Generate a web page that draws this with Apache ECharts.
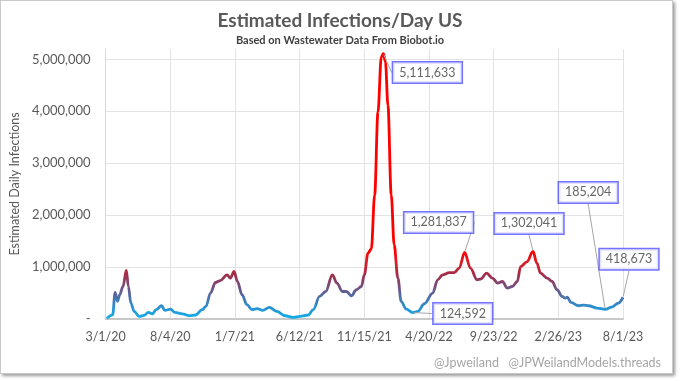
<!DOCTYPE html>
<html>
<head>
<meta charset="utf-8">
<script src="https://cdn.jsdelivr.net/npm/echarts@6/dist/echarts.min.js"></script>
<style>
  html, body { margin: 0; padding: 0; background: #ffffff; }
  #frame { position: absolute; left: 0; top: 0; width: 671px; height: 372px; border: 1px solid #c9c9c9; box-shadow: 2px 2px 3px #9a9a9a; background: #fff; }
  #chart { position: absolute; left: 0; top: 0; width: 680px; height: 381px; }
</style>
</head>
<body>
<div id="frame"></div>
<div id="chart"></div>
<script>
// Days since 3/1/20 and estimated daily infections
const days = [3, 17, 23, 29, 34, 42, 50, 55, 61, 69, 81, 93, 103, 113, 122, 135, 143, 157, 167, 185,
  202, 217, 233, 242, 253, 265, 277, 293, 301, 310, 318, 329, 341, 353, 366, 379, 395, 413, 433, 453,
  469, 489, 501, 516, 531, 547, 558, 571, 581, 593, 605, 617, 624, 633, 641, 649, 657, 665, 670, 675,
  681, 689, 696, 705, 713, 725, 741, 753, 769, 789, 801, 813, 829, 841, 853, 866, 880, 896, 905, 919,
  933, 946, 957, 969, 981, 993, 1001, 1016, 1031, 1040, 1049, 1065, 1077, 1089, 1101, 1109, 1114, 1122, 1141, 1153,
  1165, 1185, 1205, 1221, 1237, 1248];
const infections = [10000, 80000, 510000, 340000, 466000, 626000, 935000, 626000, 307000, 146000, 50000, 70000, 127000, 100000, 180000, 255000, 165000, 190000, 127000, 100000,
  63000, 77000, 180000, 242000, 500000, 703000, 741000, 850000, 787000, 915000, 722000, 467000, 275000, 180000, 198000, 165000, 223000, 146000, 63000, 30000,
  50000, 77000, 180000, 434000, 530000, 850000, 690000, 530000, 530000, 448000, 563000, 626000, 850000, 1270000, 1350000, 2390000, 3990000, 5050000, 5111633, 4950000,
  4120000, 2390000, 1430000, 787000, 338000, 190000, 124592, 146000, 294000, 500000, 755000, 850000, 895000, 895000, 980000, 1281837, 980000, 755000, 770000, 883000,
  787000, 690000, 722000, 595000, 626000, 722000, 1010000, 1100000, 1302041, 1080000, 883000, 787000, 722000, 563000, 434000, 403000, 423000, 319000, 255000, 269000,
  255000, 211000, 185204, 230000, 307000, 418673];
const tickLabels = ['3/1/20', '8/4/20', '1/7/21', '6/12/21', '11/15/21', '4/20/22', '9/23/22', '2/26/23', '8/1/23'];
const tickStep = 156;
// Annotated points (days since 3/1/20, value)
const annotDays = [670, 741, 866, 1031, 1205, 1248];
const annotValues = [5111633, 124592, 1281837, 1302041, 185204, 418673];
// label offsets from the point (px)
const annotOffsets = [[44, 19], [50, 1], [-26, -30], [-4, -28], [-17, -117], [6, -38]];

const fmt = v => v.toLocaleString('en-US');
const lineData = days.map((d, i) => [d, infections[i]]);
const annotData = annotDays.map((d, i) => [d, annotValues[i]]);

const chart = echarts.init(document.getElementById('chart'), null, { renderer: 'canvas' });
const font = 'Lato, "Open Sans", sans-serif';
chart.setOption({
  backgroundColor: 'transparent',
  animation: false,
  title: [
    { text: 'Estimated Infections/Day US', left: 'center', top: 6,
      textStyle: { fontFamily: font, fontWeight: 'bold', fontSize: 19, color: '#595959' } },
    { text: 'Based on Wastewater Data From Biobot.io', left: 'center', top: 30,
      textStyle: { fontFamily: font, fontWeight: 'bold', fontSize: 11, color: '#404040' } },
    { text: '@Jpweiland   @JPWeilandModels.threads', right: 14, top: 351,
      textStyle: { fontFamily: font, fontWeight: 'normal', fontSize: 12.5, color: '#a6a6a6' } }
  ],
  grid: { left: 103, right: 57, top: 49, bottom: 62 },
  xAxis: {
    type: 'value', min: 0, max: tickStep * (tickLabels.length - 1), interval: tickStep,
    axisLine: { show: true, onZero: false, lineStyle: { color: '#c8c8c8', width: 2 } },
    axisTick: { show: false },
    splitLine: { show: true, lineStyle: { color: '#e3e3e3', width: 1 } },
    axisLabel: { margin: 11, fontFamily: font, fontSize: 12.5, color: '#595959',
      formatter: v => tickLabels[Math.round(v / tickStep)] || '' }
  },
  yAxis: {
    type: 'value', min: 0, max: 5200000, interval: 1000000,
    name: 'Estimated Daily Infections', nameLocation: 'middle', nameGap: 80,
    nameTextStyle: { fontFamily: font, fontSize: 12.5, color: '#595959' },
    axisLine: { show: true, lineStyle: { color: '#d9d9d9', width: 1 } },
    axisTick: { show: false },
    splitLine: { show: true, showMaxLine: false, lineStyle: { color: '#e3e3e3', width: 1 } },
    axisLabel: { margin: 15, fontFamily: font, fontSize: 13, color: '#595959', showMaxLabel: false,
      formatter: v => (v % 1000000 !== 0 ? '' : (v === 0 ? '-' : fmt(v))) }
  },
  visualMap: {
    type: 'continuous', show: false, seriesIndex: 0, dimension: 1,
    min: 0, max: 1300000,
    inRange: { color: ['#10b0ea', '#2a92d0', '#4f6fa6', '#7a4a78', '#a52b45', '#d81e2a', '#ff0000'] }
  },
  series: [
    {
      type: 'line', data: lineData, showSymbol: false, smooth: 0.35, smoothMonotone: 'x',
      lineStyle: { width: 2.8 }, z: 3
    },
    {
      type: 'scatter', data: annotData, symbolSize: 2, z: 5,
      itemStyle: { color: 'rgba(0,0,0,0)' },
      label: {
        show: true, position: 'inside',
        formatter: p => fmt(p.value[1]),
        fontFamily: font, fontSize: 12.5, color: '#404040',
        backgroundColor: '#ffffff', borderColor: '#5050ff', borderWidth: 1.5,
        padding: [4, 6, 3, 6]
      },
      labelLine: { show: true, lineStyle: { color: '#a6a6a6', width: 1 } },
      labelLayout: p => {
        const o = annotOffsets[p.dataIndex];
        return { x: p.rect.x + p.rect.width / 2 + o[0], y: p.rect.y + p.rect.height / 2 + o[1],
          align: 'center', verticalAlign: 'middle' };
      }
    }
  ]
});
</script>
</body>
</html>
